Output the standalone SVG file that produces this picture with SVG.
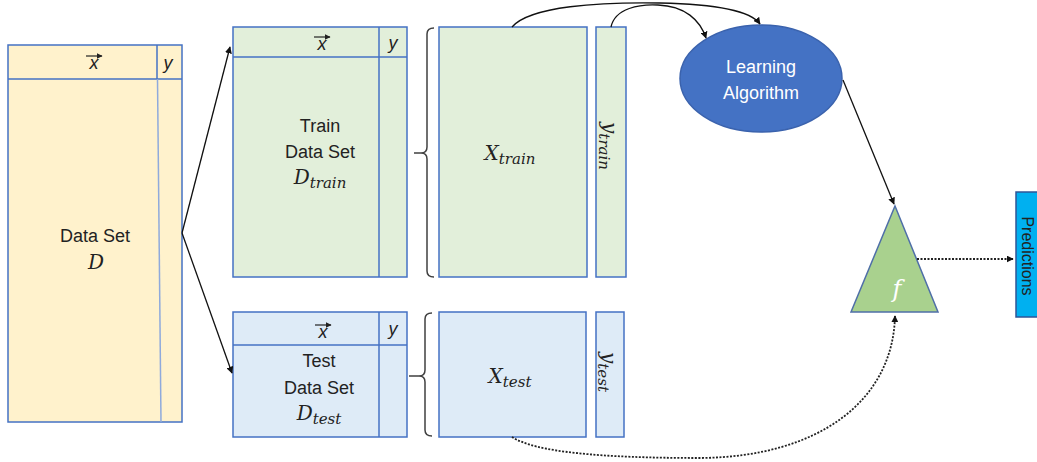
<svg xmlns="http://www.w3.org/2000/svg" width="1037" height="462" viewBox="0 0 1037 462">
  <style>
    .box { stroke: #4472c4; stroke-width: 1.5; }
    .yellow { fill: #fff2cc; }
    .green { fill: #e2efda; }
    .blue { fill: #deebf7; }
    .lbl { font-family: "Liberation Sans", Arial, sans-serif; font-size: 18px; fill: #222; text-anchor: middle; }
    .hdr { font-family: "Liberation Sans", Arial, sans-serif; font-size: 18px; font-style: italic; fill: #222; text-anchor: middle; }
    .math { font-family: "DejaVu Serif", "Liberation Serif", serif; font-style: italic; font-size: 20px; fill: #222; }
    .sub { font-size: 15px; }
    .conn { fill: none; stroke: #111; stroke-width: 1.3; }
    .dot { fill: none; stroke: #222; stroke-width: 1.8; stroke-dasharray: 2 1.5; }
    .brace { fill: none; stroke: #404040; stroke-width: 1.5; }
    .vec { fill: none; stroke: #222; stroke-width: 1.2; }
  </style>
  <defs>
    <marker id="arr" viewBox="0 0 10 10" refX="9" refY="5" markerWidth="7" markerHeight="7" orient="auto" markerUnits="userSpaceOnUse">
      <path d="M0,0 L10,5 L0,10 z" fill="#111"/>
    </marker>
    <marker id="vhead" viewBox="0 0 10 10" refX="9" refY="5" markerWidth="6" markerHeight="6" orient="auto" markerUnits="userSpaceOnUse">
      <path d="M0,0 L10,5 L0,10 z" fill="#222"/>
    </marker>
  </defs>

  <!-- Full data set D -->
  <g id="dataset">
    <rect class="box yellow" x="8" y="45" width="174" height="377"/>
    <line class="box" x1="8" y1="79" x2="182" y2="79"/>
    <line class="box" x1="157" y1="45" x2="157" y2="79"/>
    <line x1="157.5" y1="79" x2="161" y2="422" stroke="#8faadc" stroke-width="1.5"/>
    <text class="hdr" x="94" y="69">x</text>
    <path class="vec" d="M86,56 L102,56" marker-end="url(#vhead)"/>
    <text class="hdr" x="168" y="69">y</text>
    <text class="lbl" x="95" y="242">Data Set</text>
    <text class="math" x="96" y="269" text-anchor="middle">D</text>
  </g>

  <!-- Training split -->
  <g id="train-set">
    <rect class="box green" x="233" y="27" width="174" height="250"/>
    <line class="box" x1="233" y1="57" x2="407" y2="57"/>
    <line class="box" x1="379" y1="27" x2="379" y2="277"/>
    <text class="hdr" x="322" y="50">x</text>
    <path class="vec" d="M314,37 L330,37" marker-end="url(#vhead)"/>
    <text class="hdr" x="393" y="49">y</text>
    <text class="lbl" x="320" y="132">Train</text>
    <text class="lbl" x="320" y="158">Data Set</text>
    <text class="math" x="320" y="184" text-anchor="middle">D<tspan class="sub" dy="4">train</tspan></text>
  </g>

  <!-- Test split -->
  <g id="test-set">
    <rect class="box blue" x="233" y="312" width="174" height="125"/>
    <line class="box" x1="233" y1="345" x2="407" y2="345"/>
    <line class="box" x1="379" y1="312" x2="379" y2="437"/>
    <text class="hdr" x="323" y="338">x</text>
    <path class="vec" d="M315,325 L331,325" marker-end="url(#vhead)"/>
    <text class="hdr" x="393" y="335">y</text>
    <text class="lbl" x="319" y="367">Test</text>
    <text class="lbl" x="319" y="394">Data Set</text>
    <text class="math" x="319" y="420" text-anchor="middle">D<tspan class="sub" dy="4">test</tspan></text>
  </g>

  <!-- Braces -->
  <g id="braces">
    <path class="brace" d="M434,28 Q427,28 427,34 L427,147 Q427,153 421,153 L414,153 M421,153 Q427,153 427,159 L427,271 Q427,277 434,277"/>
    <path class="brace" d="M432,313 Q425,313 425,319 L425,370 Q425,376 419,376 L409,376 M419,376 Q425,376 425,382 L425,430 Q425,436 432,436"/>
  </g>

  <!-- Feature / label matrices -->
  <g id="x-train">
    <rect class="box green" x="439" y="27" width="148" height="250"/>
    <text class="math" x="510" y="160" text-anchor="middle">X<tspan class="sub" dy="4">train</tspan></text>
  </g>
  <g id="y-train">
    <rect class="box green" x="596" y="27" width="30" height="250"/>
    <text class="math" transform="translate(603,146) rotate(90)" text-anchor="middle">y<tspan class="sub" dy="4">train</tspan></text>
  </g>
  <g id="x-test">
    <rect class="box blue" x="439" y="312" width="147" height="125"/>
    <text class="math" x="510" y="383" text-anchor="middle">X<tspan class="sub" dy="4">test</tspan></text>
  </g>
  <g id="y-test">
    <rect class="box blue" x="596" y="312" width="28" height="125"/>
    <text class="math" transform="translate(602,372) rotate(90)" text-anchor="middle">y<tspan class="sub" dy="4">test</tspan></text>
  </g>

  <!-- Learning algorithm -->
  <g id="learning-algorithm">
    <ellipse cx="761" cy="78.5" rx="81" ry="53.5" fill="#4472c4" stroke="#3a62ad" stroke-width="1.5"/>
    <text class="lbl" x="761" y="73" style="fill:#fff">Learning</text>
    <text class="lbl" x="761" y="99" style="fill:#fff">Algorithm</text>
  </g>

  <!-- Learned model f -->
  <g id="model-f">
    <polygon points="895,206 938,312 851,312" fill="#a9d18e" stroke="#4f6fa8" stroke-width="1.5"/>
    <text class="math" x="897" y="297" text-anchor="middle" style="fill:#fff;font-size:24px">f</text>
  </g>

  <!-- Predictions -->
  <g id="predictions">
    <rect x="1016" y="192" width="30" height="125" fill="#00b0f0" stroke="#2f5597" stroke-width="1.5"/>
    <text class="lbl" transform="translate(1022,256) rotate(90)" style="font-size:16px">Predictions</text>
  </g>

  <!-- Connectors -->
  <g id="connectors">
    <path class="conn" d="M182,233 L230,47" marker-end="url(#arr)"/>
    <path class="conn" d="M182,233 L232,373" marker-end="url(#arr)"/>
    <path class="conn" d="M512,27 C530,6 600,2 660,3 C710,4 750,10 760,24" marker-end="url(#arr)"/>
    <path class="conn" d="M611,27 C615,8 640,4 658,5 C685,6 700,20 706,38" marker-end="url(#arr)"/>
    <path class="conn" d="M843,80 L894,204" marker-end="url(#arr)"/>
    <path class="dot" d="M917,259 L1013,259" marker-end="url(#arr)"/>
    <path class="dot" d="M512,437 C535,452 600,458 700,458 C820,457 893,400 895,316" marker-end="url(#arr)"/>
  </g>
</svg>
